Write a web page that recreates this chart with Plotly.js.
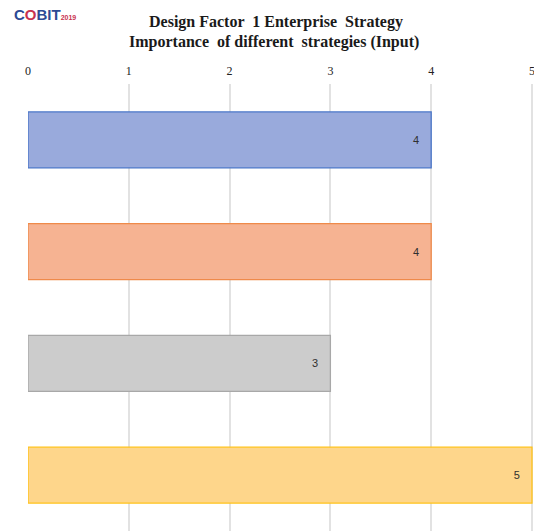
<!DOCTYPE html>
<html>
<head>
<meta charset="utf-8">
<script src="https://cdn.plot.ly/plotly-3.0.1.min.js"></script>
<style>html,body{margin:0;padding:0;background:#fff;}#chart{width:534px;height:531px;}</style>
</head>
<body>
<div id="chart"></div>
<script>
const categories = ["Growth/Acquisition", "Innovation/Differentiation", "Cost Leadership", "Client Service/Stability"];
const importance = [4, 4, 3, 5];
const xTicks = [0, 1, 2, 3, 4, 5];
const titleLines = ["Design Factor  1 Enterprise  Strategy", "Importance  of different  strategies (Input)"];
const fillColors = ["#99aadc", "#f6b392", "#cccccc", "#fed68b"];
const lineColors = ["#4a76c8", "#ef8a4a", "#a8a8a8", "#ffc21a"];

const trace = {
  type: "bar",
  orientation: "h",
  y: categories,
  x: importance,
  width: 0.5,
  marker: { color: fillColors, line: { color: lineColors, width: 1.3 } },
  text: importance.map(v => v + "&nbsp;&nbsp;&nbsp;"),
  textposition: "inside",
  insidetextanchor: "end",
  textangle: 0,
  constraintext: "none",
  textfont: { family: "Liberation Sans, Arial, sans-serif", size: 11, color: "#303030" },
  hoverinfo: "none"
};

const serif = "Liberation Serif, Times New Roman, serif";
const layout = {
  width: 534, height: 531,
  margin: { l: 28, r: 0, t: 84, b: 0, pad: 0 },
  paper_bgcolor: "#ffffff", plot_bgcolor: "#ffffff",
  showlegend: false,
  xaxis: {
    side: "top", range: [0, 5.02], tickvals: xTicks, ticktext: xTicks.map(String),
    showgrid: true, gridcolor: "#e2e2e2", gridwidth: 2,
    zeroline: false, showline: false, ticks: "", ticklabelstandoff: 6,
    ticklabeloverflow: "allow",
    tickfont: { family: serif, size: 12, color: "#222222" },
    fixedrange: true
  },
  yaxis: {
    type: "category", autorange: false, range: [3.5, -0.5],
    showticklabels: false, showgrid: false, zeroline: false, showline: false, ticks: "",
    fixedrange: true
  },
  annotations: [
    {
      xref: "paper", yref: "paper", x: (276 - 28) / 506, y: (531 - 22) / 447, xanchor: "center", yanchor: "middle",
      showarrow: false, text: "<b>" + titleLines[0] + "</b>",
      font: { family: serif, size: 16, color: "#1a1a1a" }
    },
    {
      xref: "paper", yref: "paper", x: (274 - 28) / 506, y: (531 - 42) / 447, xanchor: "center", yanchor: "middle",
      showarrow: false, text: "<b>" + titleLines[1] + "</b>",
      font: { family: serif, size: 16, color: "#1a1a1a" }
    },
    {
      xref: "paper", yref: "paper", x: (12 - 28) / 506, y: (531 - 15) / 447, xanchor: "left", yanchor: "middle",
      showarrow: false,
      text: "<b><span style='color:#2d4a94'>C</span><span style='color:#c8324f'>O</span><span style='color:#2d4a94'>BIT</span></b><span style='font-size:7px;color:#c8324f'><b>2019</b></span>",
      font: { family: "Liberation Sans, Arial, sans-serif", size: 15, color: "#2d4a94" }
    }
  ]
};

Plotly.newPlot("chart", [trace], layout, { displayModeBar: false, staticPlot: true });
</script>
</body>
</html>
